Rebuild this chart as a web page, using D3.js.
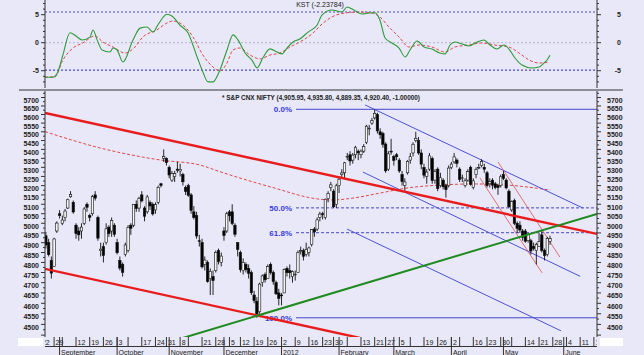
<!DOCTYPE html>
<html><head><meta charset="utf-8">
<script src="https://cdn.jsdelivr.net/npm/d3@7"></script>
<style>body{margin:0;background:#e8e8f8;} svg{display:block;font-family:"Liberation Sans",Arial,sans-serif}</style>
</head><body><svg id="c" width="644" height="355"></svg>
<script>
// ---- calendar ----
const startDate = "2011-08-22", endDate = "2012-06-22";
const holidays = ["2011-08-31","2011-09-01","2011-10-06","2011-10-27","2011-11-07","2011-11-10","2011-12-06",
  "2012-01-26","2012-02-20","2012-03-08","2012-04-05","2012-04-06","2012-05-01"];
// ---- price data (NIFTY daily, Aug 22 2011 .. May 25 2012) ----
const open = [4868,4902,4935,4900,4810,4780,4960,5050,5000,5030,5080,5140,5110,4990,4960,4960,5000,5100,5040,5050,5150,5030,4860,4880,4900,4980,4960,4990,
4900,4810,4790,4840,4860,4990,4990,5100,5080,5150,5080,5060,5110,5100,5070,5110,5210,5350,5350,5300,5230,5250,5290,5280,5260,5190,5200,5150,5060,5040,4910,
4900,4790,4800,4720,4730,4760,4860,4800,4960,4960,5060,5060,4990,4900,4850,4760,4790,4770,4750,4640,4610,4560,4700,4740,4720,4790,4750,4700,4650,
4640,4650,4770,4760,4730,4740,4750,4860,4860,4840,4850,4890,4970,4970,5030,5050,5030,5130,5190,5170,5100,5200,5260,5270,5360,5370,5340,5370,5390,
5370,5390,5440,5520,5550,5580,5600,5500,5490,5430,5290,5390,5360,5370,5340,5260,5200,5270,5340,5380,5450,5450,5380,5300,5250,5290,5350,5230,5290,5200,5230,5200,
5200,5300,5330,5340,5290,5240,5200,5230,5300,5190,5260,5300,5310,5300,5270,5210,5230,5210,5200,5200,5260,5230,5170,5070,5120,5000,4990,4960,4960,4910,4910,4880,4860,
4880,4940,4860,4840,4905.95];
const high = [4925,4960,4955,4920,4830,4925,5010,5069,5040,5075,5130,5170,5120,5000,4980,5000,5085,5110,5050,5150,5170,5040,4900,4900,5000,4990,5030,5000,
4920,4830,4800,4900,4990,5000,5100,5120,5140,5170,5090,5150,5120,5110,5110,5200,5215,5400,5355,5310,5280,5280,5330,5320,5270,5200,5210,5160,5090,5060,4940,
4920,4830,4810,4770,4760,4860,4870,4850,4980,5060,5070,5100,5000,4900,4860,4820,4800,4790,4760,4660,4630,4700,4740,4750,4790,4800,4760,4710,4670,
4650,4770,4780,4790,4760,4760,4860,4880,4870,4900,4880,4970,4980,5030,5060,5060,5130,5170,5220,5180,5210,5250,5290,5330,5380,5390,5380,5420,5400,
5400,5430,5540,5540,5580,5630,5610,5520,5500,5440,5390,5460,5370,5380,5350,5280,5240,5340,5380,5440,5500,5470,5400,5320,5290,5380,5360,5290,5300,5270,5240,5210,
5310,5330,5380,5350,5300,5260,5240,5290,5310,5240,5300,5320,5345,5320,5280,5240,5240,5220,5210,5260,5280,5240,5180,5120,5130,5010,5010,4970,4970,4950,4920,4900,4900,
4950,4960,4870,4930,4935.80];
const low = [4850,4880,4870,4830,4720,4780,4950,5025,4990,5010,5075,5135,5050,4920,4910,4920,4990,5060,5010,5040,5120,4910,4830,4800,4890,4930,4930,4930,
4840,4760,4730,4830,4850,4940,4980,5060,5060,5110,5010,5050,5070,5040,5050,5100,5190,5330,5310,5240,5220,5220,5270,5250,5200,5150,5140,5050,5020,4920,4880,
4770,4760,4700,4640,4640,4750,4790,4780,4910,4950,5010,4990,4930,4830,4750,4740,4750,4720,4640,4600,4531,4550,4680,4700,4720,4740,4690,4640,4590,
4590,4650,4730,4720,4700,4710,4750,4840,4810,4830,4830,4880,4930,4960,5010,5020,5020,5110,5170,5080,5080,5160,5240,5240,5340,5310,5320,5350,5340,
5350,5380,5430,5480,5540,5570,5490,5460,5410,5270,5280,5370,5310,5340,5270,5200,5170,5260,5320,5360,5440,5370,5290,5240,5210,5280,5210,5210,5170,5190,5180,5135,
5190,5290,5320,5300,5220,5220,5190,5220,5200,5180,5240,5290,5300,5270,5190,5190,5180,5180,5150,5190,5230,5180,5080,5060,4990,4950,4950,4910,4900,4900,4840,4860,4790,
4880,4850,4810,4830,4889.35];
const close = [4898,4948,4888,4839,4747,4919,5001,5040,5017,5064,5124,5153,5059,4947,4940,4980,5075,5084,5031,5141,5133,4923,4867,4835,4971,4946,5015,4943,
4849,4772,4751,4888,4979,4974,5099,5077,5132,5118,5037,5139,5091,5049,5098,5191,5201,5360,5326,5258,5265,5265,5284,5289,5221,5168,5148,5068,5030,4934,4906,
4778,4812,4706,4756,4710,4851,4805,4832,4936,5050,5039,4999,4943,4866,4764,4800,4764,4746,4651,4613,4544,4693,4733,4714,4779,4750,4705,4646,4624,
4636,4765,4749,4749,4754,4742,4850,4860,4831,4866,4873,4967,4955,5018,5048,5046,5127,5158,5204,5087,5199,5235,5269,5325,5361,5335,5368,5412,5381,
5390,5416,5532,5521,5564,5607,5505,5483,5429,5281,5375,5385,5339,5359,5280,5222,5220,5333,5359,5429,5463,5380,5318,5257,5274,5364,5228,5278,5184,5243,5194,5178,
5296,5318,5358,5322,5234,5243,5226,5276,5207,5226,5289,5300,5332,5290,5200,5222,5202,5189,5190,5248,5239,5188,5087,5114,4999,4974,4965,4928,4907,4942,4858,4870,4891,
4906,4860,4835,4921,4920.40];
// ---- moving average (dashed red): [trading-day index, value] ----
const maIdx = [1.7,21.8,43.6,58.2,65.5,83.8,102.0,106.8,114.1,124.0,133.8,145.8,157.9,170.3,186];
const maVal = [5501,5408,5341,5313,5276,5194,5127,5123,5133,5160,5187,5203,5209,5203,5176];
// ---- KST and signal ----
const kstIdx = [1.7,4.6,6.4,8.2,10.8,13.0,15.2,18.1,19.2,20.7,22.5,25.4,26.5,28.0,30.1,33.8,36.4,38.9,41.1,42.9,46.2,48.0,50.9,53.9,57.2,59.3,61.2,63.0,65.5,68.1,70.3,72.1,74.7,77.2,79.1,81.2,83.8,86.4,88.2,90.0,92.2,94.7,97.7,101.0,102.8,106.4,110.1,111.9,114.4,117.4,119.9,122.1,123.9,125.8,128.3,130.9,133.1,134.9,137.5,140.0,142.9,145.8,147.7,149.5,151.3,153.9,156.4,159.3,161.9,164.1,166.6,169.2,171.0,173.2,175.8,179.4,182.0,183.8,184.9,186.0];
const kstVal = [-6.18,-6.18,-5.2,-2.2,1.79,1.2,0.48,1.0,2.27,0.5,-1.3,-1.66,-0.95,-1.3,-3.45,0.48,2.6,2.8,1.9,3.2,5.07,4.77,3.16,1.73,-2.55,-5.23,-7.0,-7.0,-4.9,-1.3,1.4,0.5,-1.84,-3.1,-4.5,-2.7,-1.1,-1.66,-2.0,-0.95,0.13,0.66,1.9,3.16,4.95,5.84,5.48,6.38,5.84,5.13,5.3,5.36,4.05,0.84,-0.05,-0.95,-2.55,-1.3,0.3,-0.77,-1.13,-1.84,-2.0,-0.41,0.13,-0.23,-0.59,0.13,0.48,-0.41,-1.13,-0.41,-1.13,-2.73,-3.98,-4.52,-4.34,-3.63,-3.09,-2.24];
const sigIdx = [1.7,3.5,5.3,8.2,11.9,15.5,19.9,22.8,26.5,30.9,34.5,37.4,42.5,46.2,48.4,52.0,55.7,59.3,63.0,65.5,68.1,70.3,72.8,76.5,80.2,83.8,87.4,91.1,94.7,99.5,102.8,106.4,111.2,116.3,121.0,123.9,127.2,130.9,134.5,138.2,142.9,147.7,151.3,156.4,161.2,165.9,171.0,174.7,178.4,182.0,185.6];
const sigVal = [-6.18,-6.1,-6.1,-3.1,-0.95,-0.05,1.2,0.13,-0.77,-1.84,-0.77,1.02,2.27,3.52,3.88,3.16,1.02,-2.2,-4.34,-5.05,-3.63,-1.3,-0.95,-2.2,-2.9,-2.2,-1.84,-0.77,0.13,1.73,3.34,4.6,5.3,5.48,5.3,4.59,2.8,1.02,-0.77,-0.41,-0.77,-1.66,-0.77,-0.41,-0.05,-0.41,-0.77,-1.84,-3.09,-3.63,-3.45];
const kstLevels = [5.48,-4.9];
// ---- trend lines: [idx1, price1, idx2, price2] ----
const redThick = [[1.7,5609,203.1,4945],[1.7,4768,116.6,4437]];
const greenLine = [52.0,4437,203.1,5049];
const blueChannel = [[118.5,5656,198,5080],[117.7,5274,197,4731],[111.9,4970,190,4470]];
const redThin = [[160.4,5242,183.1,4748],[167,5330,189.6,4827]];
// ---- Fibonacci levels ----
const fibHigh = 5630.45, fibLow = 4531.15;
const fibRatios = [0,0.5,0.618,1];
const fibLabels = ["0.0%","50.0%","61.8%","100.0%"];
const fibStartIdx = 93.3;
// ---- axis labels ----
const priceTicks = d3.range(4500, 5701, 50);
const kstTicks = [5,0,-5];
const weekDates = ["2011-08-22","2011-08-29","2011-09-05","2011-09-12","2011-09-19","2011-09-26","2011-10-03","2011-10-10","2011-10-17","2011-10-24","2011-10-31","2011-11-08","2011-11-14","2011-11-21","2011-11-28","2011-12-05","2011-12-12","2011-12-19","2011-12-26","2012-01-02","2012-01-09","2012-01-16","2012-01-23","2012-01-30","2012-02-06","2012-02-13","2012-02-21","2012-02-27","2012-03-05","2012-03-12","2012-03-19","2012-03-26","2012-04-02","2012-04-09","2012-04-16","2012-04-23","2012-04-30","2012-05-07","2012-05-14","2012-05-21","2012-05-28","2012-06-04","2012-06-11","2012-06-18"];
const weekLabels = ["22","29","","12","19","26","3","","17","24","31","8","","21","28","5","12","19","26","2","9","16","23","30","","13","21","27","5","","19","26","2","","16","23","30","","14","21","28","4","11","18"];
const monthDates = ["2011-09-02","2011-10-03","2011-11-01","2011-12-01","2012-01-02","2012-02-01","2012-03-01","2012-04-02","2012-05-02","2012-06-01"];
const monthLabels = ["September","October","November","December","2012","February","March","April","May","June"];
const title = "* S&P CNX NIFTY (4,905.95, 4,935.80, 4,889.35, 4,920.40, -1.00000)";
const kstTitle = "KST (-2.23784)";

// ---- build trading-day index ----
const hol = new Set(holidays);
const fmt = d3.timeFormat("%Y-%m-%d");
const days = [];
for (let d = new Date(startDate+"T00:00:00"); d <= new Date(endDate+"T00:00:00"); d.setDate(d.getDate()+1)) {
  const wd = d.getDay(); const s = fmt(d);
  if (wd>0 && wd<6 && !hol.has(s)) days.push(s);
}
const idxOf = s => days.indexOf(s);

const svg = d3.select("#c");
const L = 45, R = 597;
const BG = "#e8e8f8";
svg.append("rect").attr("width",644).attr("height",355).attr("fill",BG);

const x = d3.scaleLinear().domain([1.68, 203.14]).range([L, R]);
const y = d3.scaleLog().domain([4500, 5700]).range([324.4, 97.5]);
const yk = d3.scaleLinear().domain([-5, 5]).range([70.7, 14.7]);

const defs = svg.append("defs");
defs.append("clipPath").attr("id","cp").append("rect").attr("x",L).attr("y",91).attr("width",R-L).attr("height",246);
defs.append("clipPath").attr("id","ck").append("rect").attr("x",L).attr("y",0).attr("width",R-L).attr("height",88);

// ===== KST panel =====
const gk = svg.append("g").attr("clip-path","url(#ck)");
gk.append("line").attr("x1",L).attr("x2",R).attr("y1",yk(0)).attr("y2",yk(0)).attr("stroke","#b4b4cc").attr("stroke-dasharray","2,2");
kstLevels.forEach(v=>gk.append("line").attr("x1",L).attr("x2",R).attr("y1",yk(v)).attr("y2",yk(v)).attr("stroke","#4a4ac0").attr("stroke-width",1.2).attr("stroke-dasharray","2,2"));
const lk = (ix,vals)=>d3.line().x((d,i)=>x(ix[i])).y(d=>yk(d)).curve(d3.curveMonotoneX)(vals);
gk.append("path").attr("d",lk(sigIdx,sigVal)).attr("fill","none").attr("stroke","#e04848").attr("stroke-width",1).attr("stroke-dasharray","3,2");
gk.append("path").attr("d",lk(kstIdx,kstVal)).attr("fill","none").attr("stroke","#2f9a3a").attr("stroke-width",1.1);
svg.append("text").attr("x",320).attr("y",7).attr("text-anchor","middle").attr("font-size",7).attr("fill","#222").text(kstTitle);
// KST axes
[L,R].forEach((ax,k)=>{
  svg.append("line").attr("x1",ax).attr("x2",ax).attr("y1",0).attr("y2",88).attr("stroke","#333");
  d3.range(-8,9,1).forEach(v=>{const yy=yk(v); if(yy<1||yy>87) return;
    const len = v%5===0?4:2;
    svg.append("line").attr("x1",ax).attr("x2",k?ax+len:ax-len).attr("y1",yy).attr("y2",yy).attr("stroke","#333");});
  kstTicks.forEach(v=>svg.append("text").attr("x",k?621:39).attr("y",yk(v)+2.5).attr("text-anchor",k?"end":"end")
     .attr("font-size",7).attr("font-weight","bold").attr("fill","#222").text(v));
});
// separator
svg.append("line").attr("x1",19).attr("x2",623).attr("y1",90).attr("y2",90).attr("stroke","#333").attr("stroke-width",1.2);

// ===== price panel =====
const gp = svg.append("g").attr("clip-path","url(#cp)");
// MA
gp.append("path").attr("d",d3.line().x((d,i)=>x(maIdx[i])).y(d=>y(d)).curve(d3.curveMonotoneX)(maVal))
  .attr("fill","none").attr("stroke","#e04848").attr("stroke-width",1).attr("stroke-dasharray","3,2");
// Fibonacci
fibRatios.forEach((r,i)=>{
  const v = Math.exp(Math.log(fibHigh) - r*(Math.log(fibHigh)-Math.log(fibLow)));
  const lv = fibHigh - r*(fibHigh-fibLow);
  gp.append("line").attr("x1",x(fibStartIdx)).attr("x2",R).attr("y1",y(lv)).attr("y2",y(lv))
    .attr("stroke","#4646cc").attr("stroke-width",1).attr("stroke-dasharray",(r===0||r===1)?null:"3,2");
  gp.append("text").attr("x",x(fibStartIdx)-4).attr("y",y(lv)+3).attr("text-anchor","end").attr("font-size",8)
    .attr("font-weight","bold").attr("fill","#3a3ae0").text(fibLabels[i]);
});
const seg = (a,col,w)=>{
  const s = (a[3]-a[1]); // use log interpolation in price -> straight in log space
  const f = t=>Math.exp(Math.log(a[1])+(Math.log(a[3])-Math.log(a[1]))*(t-a[0])/(a[2]-a[0]));
  gp.append("line").attr("x1",x(a[0])).attr("y1",y(a[1])).attr("x2",x(a[2])).attr("y2",y(a[3])).attr("stroke",col).attr("stroke-width",w);
};
blueChannel.forEach(a=>seg(a,"#5050d8",1));
redThin.forEach(a=>seg(a,"#e05050",0.8));
// candles
const N = close.length;
const cg = gp.append("g");
for (let i=0;i<N;i++){
  const cx = x(i); const up = close[i]>=open[i];
  cg.append("line").attr("x1",cx).attr("x2",cx).attr("y1",y(high[i])).attr("y2",y(low[i])).attr("stroke","#111").attr("stroke-width",0.9);
  const top = y(Math.max(open[i],close[i])), bot = y(Math.min(open[i],close[i]));
  cg.append("rect").attr("x",cx-1.2).attr("y",top).attr("width",2.4).attr("height",Math.max(0.8,bot-top))
    .attr("fill",up?"#f4f4f4":"#000").attr("stroke","#111").attr("stroke-width",0.6);
}
redThick.forEach(a=>seg(a,"#e81c1c",2.4));
seg(greenLine,"#1f8a1f",2);

// price axes
[L,R].forEach((ax,k)=>{
  svg.append("line").attr("x1",ax).attr("x2",ax).attr("y1",91).attr("y2",337).attr("stroke","#333");
  d3.range(4450,5751,25).forEach(v=>{const yy=y(v); if(yy<92||yy>336) return;
    const len = v%50===0?4:2;
    svg.append("line").attr("x1",ax).attr("x2",k?ax+len:ax-len).attr("y1",yy).attr("y2",yy).attr("stroke","#333");});
  priceTicks.forEach(v=>svg.append("text").attr("x",k?607:39).attr("y",y(v)+5.5).attr("text-anchor",k?"start":"end")
     .attr("font-size",7).attr("font-weight","bold").attr("fill","#222").text(v));
});
svg.append("text").attr("x",222).attr("y",99.5).attr("font-size",8).attr("font-weight","bold").attr("fill","#222")
  .attr("textLength",198).attr("lengthAdjust","spacingAndGlyphs").text(title);

// x axis
svg.append("rect").attr("x",18).attr("y",338).attr("width",25).attr("height",8).attr("fill","#fff");
svg.append("rect").attr("x",600).attr("y",338).attr("width",23).attr("height",8).attr("fill","#fff");
svg.append("line").attr("x1",L).attr("x2",R).attr("y1",346.5).attr("y2",346.5).attr("stroke","#333");
const gx = svg.append("g");
const ax = gx.append("g").attr("clip-path","url(#cx)");
defs.append("clipPath").attr("id","cx").append("rect").attr("x",L).attr("y",336).attr("width",R-L).attr("height",20);
weekDates.forEach((d,i)=>{
  const xx = x(idxOf(d));
  ax.append("line").attr("x1",xx).attr("x2",xx).attr("y1",337).attr("y2",346).attr("stroke","#333");
  ax.append("text").attr("x",xx+1.5).attr("y",344.5).attr("font-size",7).attr("fill","#222").text(weekLabels[i]);
});
monthDates.forEach((d,i)=>{
  const xx = x(idxOf(d));
  ax.append("line").attr("x1",xx).attr("x2",xx).attr("y1",337).attr("y2",355).attr("stroke","#333");
  ax.append("text").attr("x",xx+1.5).attr("y",354.5).attr("font-size",7).attr("fill","#222").text(monthLabels[i]);
});
</script></body></html>
